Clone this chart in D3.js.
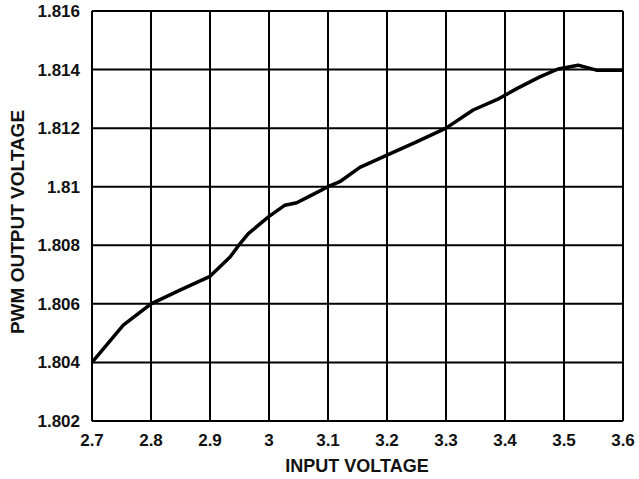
<!DOCTYPE html>
<html>
<head>
<meta charset="utf-8">
<script src="https://cdn.jsdelivr.net/npm/d3@7"></script>
<style>
  html, body { margin: 0; padding: 0; background: #fff; }
  text { font-family: "Liberation Sans", Arial, sans-serif; font-weight: bold; fill: #111; }
</style>
</head>
<body>
<div id="container"></div>
<script>
// data
const inputVoltage = [2.7, 2.753, 2.8, 2.85, 2.9, 2.934, 2.951, 2.965, 2.999, 3.027, 3.047, 3.069, 3.1, 3.12, 3.154, 3.2, 3.25, 3.3, 3.346, 3.39, 3.42, 3.459, 3.49, 3.524, 3.555, 3.6]
const pwmOutput = [1.804, 1.80527, 1.806, 1.80648, 1.80694, 1.8076, 1.80806, 1.8084, 1.80897, 1.80937, 1.80945, 1.80968, 1.81, 1.81017, 1.81066, 1.81108, 1.81153, 1.812, 1.81262, 1.81301, 1.81335, 1.81375, 1.81402, 1.81415, 1.81398, 1.81398]

const xTicks = [2.7, 2.8, 2.9, 3.0, 3.1, 3.2, 3.3, 3.4, 3.5, 3.6]
const xTickLabels = ['2.7', '2.8', '2.9', '3', '3.1', '3.2', '3.3', '3.4', '3.5', '3.6']
const yTicks = [1.802, 1.804, 1.806, 1.808, 1.81, 1.812, 1.814, 1.816]
const yTickLabels = ['1.802', '1.804', '1.806', '1.808', '1.81', '1.812', '1.814', '1.816']

const width = 639
const height = 479
const margin = { top: 11, right: 16, bottom: 58, left: 92 }
const plotW = width - margin.left - margin.right
const plotH = height - margin.top - margin.bottom

const svg = d3.select('#container')
  .append('svg')
  .attr('width', width)
  .attr('height', height)

const x = d3.scaleLinear().domain([2.7, 3.6]).range([margin.left, margin.left + plotW])
const y = d3.scaleLinear().domain([1.802, 1.816]).range([margin.top + plotH, margin.top])

// grid lines
svg.append('g')
  .selectAll('line')
  .data(xTicks)
  .enter().append('line')
  .attr('x1', d => x(d)).attr('x2', d => x(d))
  .attr('y1', y(1.816)).attr('y2', y(1.802))
  .attr('stroke', '#000')
  .attr('stroke-width', 2)

svg.append('g')
  .selectAll('line')
  .data(yTicks)
  .enter().append('line')
  .attr('x1', x(2.7)).attr('x2', x(3.6))
  .attr('y1', d => y(d)).attr('y2', d => y(d))
  .attr('stroke', '#000')
  .attr('stroke-width', 2)

// tick labels
svg.append('g')
  .selectAll('text')
  .data(xTicks)
  .enter().append('text')
  .attr('x', d => x(d))
  .attr('y', 446)
  .attr('text-anchor', 'middle')
  .style('font-size', '17px')
  .text((d, i) => xTickLabels[i])

svg.append('g')
  .selectAll('text')
  .data(yTicks)
  .enter().append('text')
  .attr('x', 80)
  .attr('y', d => y(d))
  .attr('dy', '0.35em')
  .attr('text-anchor', 'end')
  .style('font-size', '17px')
  .text((d, i) => yTickLabels[i])

// axis titles
svg.append('text')
  .attr('x', 357)
  .attr('y', 472)
  .attr('text-anchor', 'middle')
  .style('font-size', '18px')
  .text('INPUT VOLTAGE')

svg.append('text')
  .attr('transform', 'translate(24,222) rotate(-90)')
  .attr('text-anchor', 'middle')
  .style('font-size', '19px')
  .text('PWM OUTPUT VOLTAGE')

// curve
const line = d3.line()
  .x((d, i) => x(inputVoltage[i]))
  .y(d => y(d))

svg.append('path')
  .datum(pwmOutput)
  .attr('d', line)
  .attr('fill', 'none')
  .attr('stroke', '#000')
  .attr('stroke-width', 3.5)
  .attr('stroke-linejoin', 'round')
</script>
</body>
</html>
